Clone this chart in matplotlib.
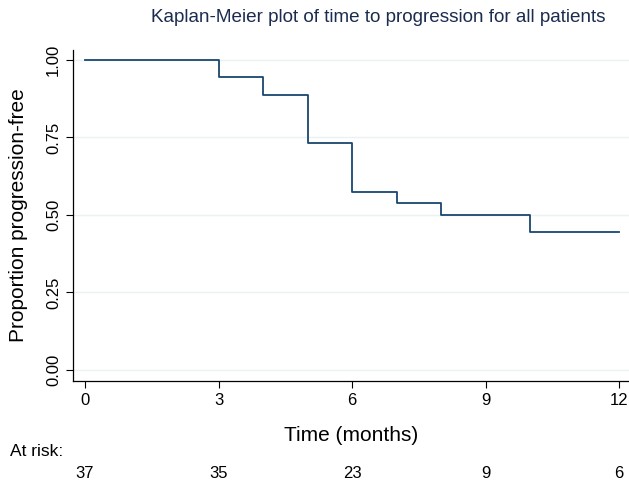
import matplotlib.pyplot as plt

plt.rcParams['font.family'] = ['Liberation Sans', 'DejaVu Sans']

# step times and survival estimates
times = [0, 3, 4, 5, 6, 7, 8, 10, 12]
surv = [1.0, 0.946, 0.887, 0.733, 0.574, 0.538, 0.50, 0.444, 0.444]

risk_times = [0, 3, 6, 9, 12]
at_risk = [37, 35, 23, 9, 6]

navy = '#1a476f'

fig = plt.figure(figsize=(6.29, 4.83), dpi=100)
ax = fig.add_axes([73 / 629, 1 - 381 / 483, 556 / 629, 331 / 483])

ax.step(times, surv, where='post', color=navy, linewidth=1.3)

ax.set_xlim(-0.27, 12.22)
ax.set_ylim(-0.0355, 1.032)
ax.set_xticks(risk_times)
ax.set_yticks([0, 0.25, 0.5, 0.75, 1.0])
ax.set_yticklabels(['0.00', '0.25', '0.50', '0.75', '1.00'], rotation=90, va='center')
ax.tick_params(axis='both', labelsize=12, length=5, width=0.8, color='black')
ax.grid(axis='y', color='#eaf2f3', linewidth=1)
ax.set_axisbelow(True)

for s in ['top', 'right']:
    ax.spines[s].set_visible(False)
for s in ['left', 'bottom']:
    ax.spines[s].set_linewidth(0.9)

ax.set_ylabel('Proportion progression-free', fontsize=15)
ax.yaxis.set_label_coords(-45 / 556, 0.5)
ax.set_xlabel('Time (months)', fontsize=15)
ax.xaxis.set_label_coords(0.5, -45 / 331)

fig.text(378 / 629, 1 - 18 / 483, 'Kaplan-Meier plot of time to progression for all patients',
         fontsize=13.6, color='#1c2c50', ha='center', va='center')

# at-risk table
fig.text(10 / 629, 1 - 452 / 483, 'At risk:', fontsize=12.5, va='center', ha='left')
for t, n in zip(risk_times, at_risk):
    xf = ax.transData.transform((t, 0))[0]
    fig.text(xf / 629, 1 - 473 / 483, str(n), fontsize=12, va='center', ha='center')

fig.savefig('out.png', dpi=100)
